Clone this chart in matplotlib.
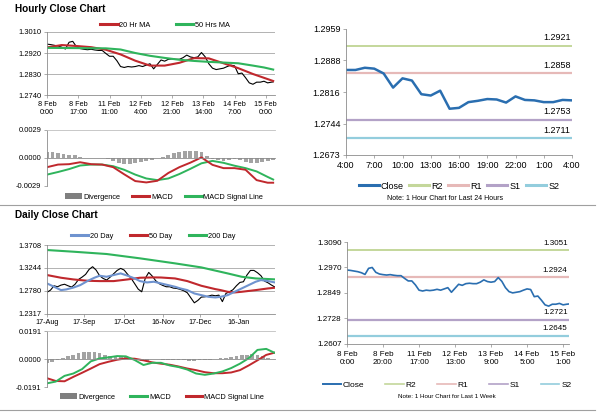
import numpy as np
import matplotlib
matplotlib.use("Agg")
import matplotlib.pyplot as plt
from matplotlib.lines import Line2D
from matplotlib.patches import Patch

plt.rcParams['font.family'] = ['Liberation Sans', 'DejaVu Sans']

# ---- hourly data (8 Feb 0:00 .. 15 Feb ~3:00), one close every 2 bars ----
hourly_bars = list(range(0, 123, 2)) + [123]
hourly_close = [1.2958, 1.2956, 1.2953, 1.2950, 1.2945, 1.2937, 1.2966, 1.2970,
                1.2947, 1.2939, 1.2936, 1.2934, 1.2936, 1.2933, 1.2931, 1.2931,
                1.2918, 1.2906, 1.2906, 1.2887, 1.2862, 1.2858, 1.2862, 1.2860,
                1.2862, 1.2866, 1.2862, 1.2868, 1.2874, 1.2852, 1.2871, 1.2890,
                1.2885, 1.2893, 1.2895, 1.2893, 1.2893, 1.2900, 1.2911, 1.2903,
                1.2900, 1.2903, 1.2922, 1.2904, 1.2874, 1.2855, 1.2849, 1.2852,
                1.2855, 1.2862, 1.2868, 1.2865, 1.2831, 1.2834, 1.2814, 1.2792,
                1.2786, 1.2795, 1.2795, 1.2799, 1.2792, 1.2795, 1.2796]

ma20_bars = [0, 8, 16, 24, 32, 40, 48, 56, 64, 72, 80, 88, 96, 104, 112, 123]
ma20_hr = [1.2944, 1.2954, 1.2950, 1.2945, 1.2934, 1.2914, 1.2887, 1.2866,
           1.2866, 1.2878, 1.2898, 1.2897, 1.2876, 1.2855, 1.2830, 1.2800]
ma50_bars = [0, 16, 32, 40, 48, 56, 64, 72, 80, 88, 96, 104, 112, 118, 123]
ma50_hr = [1.2942, 1.2941, 1.2940, 1.2935, 1.2920, 1.2908, 1.2899, 1.2891,
           1.2886, 1.2882, 1.2879, 1.2876, 1.2866, 1.2858, 1.2849]

hourly_ticks = [0, 17, 34, 51, 68, 85, 102, 119]
hourly_labels = ["8 Feb\n0:00", "8 Feb\n17:00", "11 Feb\n11:00", "12 Feb\n4:00",
                 "12 Feb\n21:00", "13 Feb\n14:00", "14 Feb\n7:00", "15 Feb\n0:00"]

macd_hr_bars = [0, 6, 12, 18, 24, 30, 36, 42, 48, 54, 60, 66, 72, 78, 84, 90,
                96, 102, 108, 114, 120, 123]
macd_hr = [-0.00095, -0.00068, -0.00064, -0.00044, -0.00064, -0.00068, -0.00095,
           -0.00169, -0.00239, -0.00253, -0.00236, -0.00155, -0.00095, -0.00048,
           0.00006, -0.00071, -0.00105, -0.00105, -0.00122, -0.00229, -0.00256,
           -0.00256]
signal_hr = [-0.00172, -0.00145, -0.00115, -0.00078, -0.00068, -0.00068, -0.00085,
             -0.00122, -0.00172, -0.00212, -0.00229, -0.00212, -0.00166, -0.00112,
             -0.00055, -0.00030, -0.00050, -0.00080, -0.00105, -0.00139, -0.00196,
             -0.00223]
div_hr_bars = list(range(0, 124, 3))
div_hr = [0.00065, 0.0006, 0.00052, 0.0004, 0.0003, 0.0003, 0.00015, 0.00003,
          0.0, -0.00002, -0.00005, -0.0001, -0.0003, -0.0005, -0.0006, -0.0006,
          -0.0005, -0.0004, -0.0003, -0.0002, -0.00005, 0.0001, 0.0003, 0.0005,
          0.0006, 0.0007, 0.00075, 0.0007, 0.0006, 0.0002, -0.0001, -0.0002,
          -0.0003, -0.0002, -0.00015, -0.0002, -0.0004, -0.0005, -0.0005,
          -0.00045, -0.0003, -0.0002]

# ---- last 24 hours ----
day_labels = ["4:00", "7:00", "10:00", "13:00", "16:00", "19:00", "22:00", "1:00", "4:00"]
day_close = [1.2866, 1.2866, 1.2871, 1.2869, 1.2858, 1.2826, 1.2847, 1.2842,
             1.2811, 1.2808, 1.2819, 1.2778, 1.2780, 1.2793, 1.2796, 1.2800,
             1.2799, 1.2792, 1.2806, 1.2798, 1.2797, 1.2793, 1.2793, 1.2798,
             1.2797]
day_levels = {"R2": 1.2921, "R1": 1.2858, "S1": 1.2753, "S2": 1.2711}

# ---- last week levels ----
week_ticks = [0, 20, 40, 60, 80, 100, 120]
week_labels = ["8 Feb\n0:00", "8 Feb\n20:00", "11 Feb\n17:00", "12 Feb\n13:00",
               "13 Feb\n9:00", "14 Feb\n5:00", "15 Feb\n1:00"]
week_levels = {"R2": 1.3051, "R1": 1.2924, "S1": 1.2721, "S2": 1.2645}

# ---- daily data (17 Aug .. mid Feb), one close every 2 days ----
daily_bars = list(range(0, 131, 2))
daily_close = [1.2748, 1.2792, 1.2880, 1.2860, 1.2894, 1.2911, 1.2880, 1.2853,
               1.2911, 1.3009, 1.3056, 1.3111, 1.3212, 1.3267, 1.3199, 1.3084,
               1.3029, 1.2996, 1.3056, 1.3124, 1.3192, 1.3233, 1.3199, 1.3111,
               1.3029, 1.2922, 1.2812, 1.2758, 1.3029, 1.3151, 1.3077, 1.2982,
               1.2922, 1.2887, 1.2860, 1.2860, 1.2833, 1.2826, 1.2806, 1.2779,
               1.2738, 1.2636, 1.2534, 1.2582, 1.2650, 1.2656, 1.2670, 1.2690,
               1.2677, 1.2690, 1.2558, 1.2724, 1.2758, 1.2799, 1.2880, 1.2948,
               1.2962, 1.3098, 1.3192, 1.3192, 1.3145, 1.3084, 1.2975, 1.2941,
               1.2894, 1.2853]
ma20d_bars = [0, 4, 8, 11, 15, 19, 23, 27, 30, 34, 38, 42, 46, 50, 53, 57, 61,
              65, 69, 73, 76, 80, 84, 88, 92, 96, 99, 103, 107, 111, 115, 119,
              122, 126, 130]
ma20_day = [1.2928, 1.2860, 1.2792, 1.2806, 1.2843, 1.2894, 1.2975, 1.3043,
            1.3084, 1.3063, 1.3098, 1.3131, 1.3084, 1.3029, 1.2975, 1.2948,
            1.2962, 1.2928, 1.2894, 1.2860, 1.2826, 1.2792, 1.2724, 1.2690,
            1.2656, 1.2643, 1.2656, 1.2690, 1.2758, 1.2826, 1.2894, 1.2962,
            1.2996, 1.2975, 1.2948]
ma50d_bars = [0, 8, 15, 23, 30, 38, 46, 53, 61, 65, 73, 80, 88, 96, 99, 103,
              107, 111, 119, 126, 130]
ma50_day = [1.3098, 1.3043, 1.3009, 1.2982, 1.2975, 1.2975, 1.3009, 1.3043,
            1.3050, 1.3048, 1.3029, 1.2975, 1.2880, 1.2812, 1.2792, 1.2758,
            1.2745, 1.2758, 1.2792, 1.2826, 1.2840]
ma200d_bars = [0, 15, 34, 53, 73, 88, 103, 111, 119, 130]
ma200_day = [1.3606, 1.3572, 1.3525, 1.3437, 1.3335, 1.3253, 1.3131, 1.3063,
             1.3029, 1.3010]
daily_ticks = [0, 21, 44, 66, 87, 109]
daily_labels = ["17-Aug", "17-Sep", "17-Oct", "16-Nov", "17-Dec", "16-Jan"]

macd_d_bars = list(range(0, 131, 5))
macd_day = [-0.0166, -0.0154, -0.0115, -0.0099, -0.0069, -0.0016, 0.0004, 0.0011,
            0.0020, 0.0018, -0.0007, -0.0041, -0.0026, -0.0026, -0.0044, -0.0055,
            -0.0072, -0.0099, -0.0108, -0.0099, -0.0085, -0.0062, -0.0032, 0.0005,
            0.0062, 0.0069, 0.0041]
signal_day = [-0.0131, -0.0150, -0.0152, -0.0122, -0.0094, -0.0065, -0.0035,
              -0.0019, -0.0005, 0.0004, 0.0002, -0.0009, -0.0023, -0.0032,
              -0.0039, -0.0051, -0.0065, -0.0076, -0.0090, -0.0097, -0.0097,
              -0.0092, -0.0076, -0.0044, -0.0009, 0.0028, 0.0044]
div_d_bars = list(range(0, 130, 3))
div_day = [-0.0025, -0.0020, -0.0005, 0.0010, 0.0020, 0.0030, 0.0038, 0.0045,
           0.0050, 0.0050, 0.0038, 0.0028, 0.0018, 0.0014, 0.0016, 0.0012,
           0.0005, -0.0005, -0.0015, -0.0011, -0.0003, -0.0002, -0.0005, -0.0005,
           -0.0007, -0.0008, -0.0010, -0.0011, -0.0011, -0.0009, -0.0007, -0.0004,
           0.0000, 0.0005, 0.0010, 0.0015, 0.0020, 0.0025, 0.0030, 0.0033,
           0.0030, 0.0020, 0.0008, 0.0001]

RED = '#C0282D'
GREEN = '#2FB45C'
BLUE_MA = '#6F93CF'
CLOSE_BLUE = '#2A6EB0'
GRAY = '#7F7F7F'
DIV_GRAY = '#A3A3A3'
AXIS = '#8C8C8C'
LEVEL_COLORS = {"R2": '#C4D79B', "R1": '#E6B9B8', "S1": '#B3A2C7', "S2": '#93CDDD'}

W, H = 600, 413
fig = plt.figure(figsize=(6.0, 4.13), dpi=100)


def px_axes(x0, y0, x1, y1):
    return fig.add_axes([x0 / W, 1 - y1 / H, (x1 - x0) / W, (y1 - y0) / H])


def style(ax, size):
    for side in ['top', 'right']:
        ax.spines[side].set_visible(False)
    for side in ['left', 'bottom']:
        ax.spines[side].set_color(AXIS)
        ax.spines[side].set_linewidth(0.6)
    ax.tick_params(length=2.5, width=0.5, color=AXIS, pad=1.5, labelsize=size)


def fmt_ticks(ax, ticks, size):
    ax.set_yticks(ticks)
    ax.set_yticklabels(["%.4f" % t for t in ticks], fontsize=size)


def fig_legend(handles, labels, cx, cy, size, hl=2.3, cs=1.5):
    fig.legend(handles, labels, loc='center', bbox_to_anchor=(cx / W, 1 - cy / H),
               ncol=len(labels), frameon=False, fontsize=size, handlelength=hl,
               handletextpad=0.25, columnspacing=cs, borderpad=0, borderaxespad=0)


def macd_panel(ax, div_x, div_y, lines, lim, size):
    style(ax, size)
    ax.spines['top'].set_visible(True)
    ax.spines['top'].set_color('#BFBFBF')
    ax.spines['top'].set_linewidth(0.6)
    ax.spines['bottom'].set_position(('data', 0))
    ax.bar(div_x, div_y, width=2.1, color=DIV_GRAY, linewidth=0)
    for xs, ys, c in lines:
        ax.plot(xs, ys, color=c, lw=1.4)
    ax.set_ylim(-lim, lim)
    ax.set_yticks([-lim, 0, lim])
    ax.set_yticklabels(["-%.4f" % lim, "0.0000", "%.4f" % lim], fontsize=size)
    ax.tick_params(axis='x', length=0, labelbottom=False)


def level_panel(ax, levels, xmax, size):
    for name, val in levels.items():
        ax.axhline(val, color=LEVEL_COLORS[name], lw=1.6 if name != "R2" else 1.4)
        ax.annotate("%.4f" % val, xy=(xmax, val), xytext=(-1, 2.5),
                    textcoords='offset points', ha='right', va='bottom', fontsize=size)


# ================= Hourly close chart =================
fig.text(15 / W, 1 - 9 / H, "Hourly Close Chart", fontsize=7.2, fontweight='bold', va='center')

ax1 = px_axes(47, 32, 275, 95)
style(ax1, 5.4)
ax1.yaxis.grid(True, color='#A6A6A6', lw=0.6)
ax1.set_axisbelow(True)
ax1.plot(hourly_bars, hourly_close, color='black', lw=0.8)
ax1.plot(ma20_bars, ma20_hr, color=RED, lw=1.5)
ax1.plot(ma50_bars, ma50_hr, color=GREEN, lw=1.5)
ax1.set_xlim(0, 124)
ax1.set_ylim(1.2740, 1.3010)
fmt_ticks(ax1, [1.2740, 1.2830, 1.2920, 1.3010], 5.4)
ax1.set_xticks(hourly_ticks)
ax1.set_xticklabels(hourly_labels, fontsize=5.2)
fig_legend([Line2D([], [], color=RED, lw=2.2), Line2D([], [], color=GREEN, lw=2.2)],
           ["20 Hr MA", "50 Hrs MA"], 165, 25, 5.3, hl=2.4, cs=3.4)

ax2 = px_axes(47, 130, 275, 186)
macd_panel(ax2, div_hr_bars, div_hr,
           [(macd_hr_bars, signal_hr, GREEN), (macd_hr_bars, macd_hr, RED)], 0.0029, 5.4)
ax2.set_xlim(0, 124)
fig_legend([Patch(facecolor=GRAY), Line2D([], [], color=RED, lw=2.2),
            Line2D([], [], color=GREEN, lw=2.2)],
           ["Divergence", "MACD", "MACD Signal Line"], 164, 197, 5.3, cs=1.6)

# last 24 hours
ax3 = px_axes(346, 29, 572, 155)
style(ax3, 6.5)
level_panel(ax3, day_levels, 24, 6.5)
ax3.plot(range(len(day_close)), day_close, color=CLOSE_BLUE, lw=1.8)
ax3.set_xlim(0, 24)
ax3.set_ylim(1.2673, 1.2959)
fmt_ticks(ax3, [1.2673, 1.2744, 1.2816, 1.2888, 1.2959], 6.5)
ax3.set_xticks(range(0, 25, 3))
ax3.set_xticklabels(day_labels, fontsize=6.5)
fig_legend([Line2D([], [], color=CLOSE_BLUE, lw=2.2)] +
           [Line2D([], [], color=LEVEL_COLORS[k], lw=2.2) for k in day_levels],
           ["Close"] + list(day_levels), 459, 186, 6.5, hl=2.2, cs=0.6)
fig.text(445 / W, 1 - 198 / H, "Note: 1 Hour Chart for Last 24 Hours", fontsize=5,
         ha='center', va='center')

# separators
fig.add_artist(Line2D([0, 595 / W], [1 - 205 / H, 1 - 205 / H], color='#A0A0A0', lw=0.8))
fig.add_artist(Line2D([0, 595 / W], [1 - 410 / H, 1 - 410 / H], color='#A0A0A0', lw=0.8))

# ================= Daily close chart =================
fig.text(15 / W, 1 - 215 / H, "Daily Close Chart", fontsize=7.2, fontweight='bold', va='center')

ax4 = px_axes(47, 245, 275, 313.5)
style(ax4, 5.4)
ax4.yaxis.grid(True, color='#A6A6A6', lw=0.6)
ax4.set_axisbelow(True)
ax4.plot(daily_bars, daily_close, color='black', lw=0.8)
ax4.plot(ma200d_bars, ma200_day, color=GREEN, lw=1.5)
ax4.plot(ma50d_bars, ma50_day, color=RED, lw=1.5)
ax4.plot(ma20d_bars, ma20_day, color=BLUE_MA, lw=1.5)
ax4.set_xlim(0, 130)
ax4.set_ylim(1.2317, 1.3708)
fmt_ticks(ax4, [1.2317, 1.2780, 1.3244, 1.3708], 5.4)
ax4.set_xticks(daily_ticks)
ax4.set_xticklabels(daily_labels, fontsize=5.2)
fig_legend([Line2D([], [], color=BLUE_MA, lw=2.2), Line2D([], [], color=RED, lw=2.2),
            Line2D([], [], color=GREEN, lw=2.2)],
           ["20 Day", "50 Day", "200 Day"], 153, 236, 5.3, cs=2.3)

ax5 = px_axes(47, 331, 275, 387)
macd_panel(ax5, div_d_bars, div_day,
           [(macd_d_bars, signal_day, RED), (macd_d_bars, macd_day, GREEN)], 0.0191, 5.4)
ax5.set_xlim(0, 130)
fig_legend([Patch(facecolor=GRAY), Line2D([], [], color=GREEN, lw=2.2),
            Line2D([], [], color=RED, lw=2.2)],
           ["Divergence", "MACD", "MACD Signal Line"], 162, 397, 5.3, cs=2.0)

# last week
ax6 = px_axes(347, 242.3, 569, 343.7)
style(ax6, 5.8)
level_panel(ax6, week_levels, 123.3, 5.8)
ax6.plot(hourly_bars, hourly_close, color=CLOSE_BLUE, lw=1.2)
ax6.set_xlim(0, 123.3)
ax6.set_ylim(1.2607, 1.3090)
fmt_ticks(ax6, [1.2607, 1.2728, 1.2849, 1.2970, 1.3090], 5.8)
ax6.set_xticks(week_ticks)
ax6.set_xticklabels(week_labels, fontsize=5.8)
ax6.tick_params(axis='x', pad=3)
fig_legend([Line2D([], [], color=CLOSE_BLUE, lw=1.4)] +
           [Line2D([], [], color=LEVEL_COLORS[k], lw=1.2) for k in week_levels],
           ["Close"] + list(week_levels), 447, 385, 6.0, hl=2.2, cs=2.5)
fig.text(447 / W, 1 - 397 / H, "Note: 1 Hour Chart for Last 1 Week", fontsize=4.5,
         ha='center', va='center')

fig.savefig("out.png", dpi=100)
